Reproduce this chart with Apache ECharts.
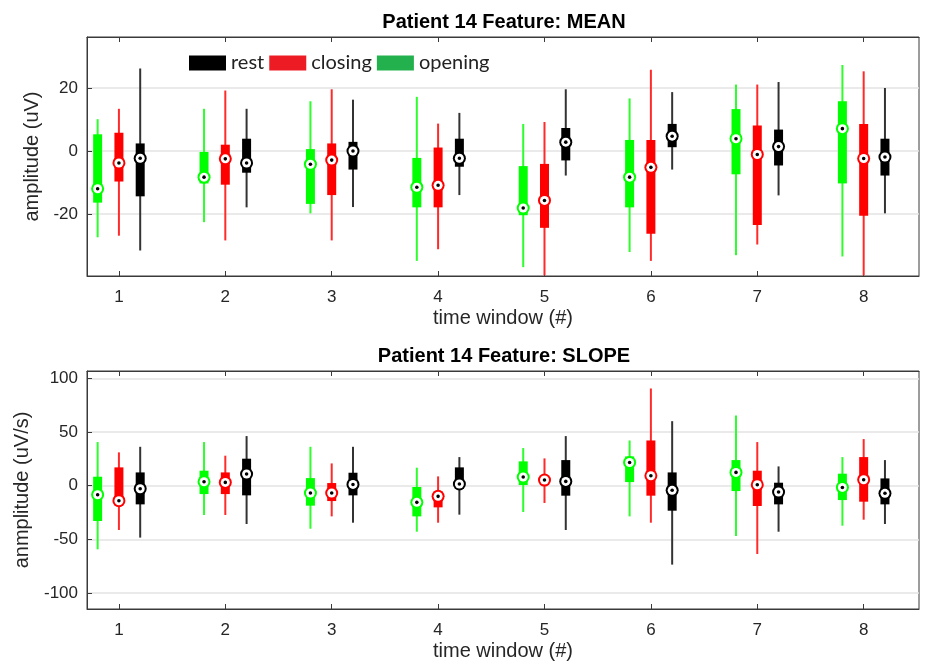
<!DOCTYPE html>
<html>
<head>
<meta charset="utf-8">
<script src="https://cdn.jsdelivr.net/npm/echarts@6/dist/echarts.min.js"></script>
<style>
  html, body { margin: 0; padding: 0; background: #fff; }
  #chart { width: 925px; height: 668px; }
</style>
</head>
<body>
<div id="chart"></div>
<script>
var windows = [1, 2, 3, 4, 5, 6, 7, 8];
var meanTicks = [-20, 0, 20];
var slopeTicks = [-100, -50, 0, 50, 100];

// each row: [lower whisker, q1, median, q3, upper whisker]
var meanOpening = [
  [-27.4, -16.4, -12.0, 5.3, 10.1], [-22.6, -10.3, -8.3, -0.3, 13.4],
  [-19.8, -16.8, -4.2, 0.6, 15.8], [-34.9, -17.9, -11.5, -2.2, 17.2],
  [-36.9, -20.4, -18.1, -4.8, 8.6], [-32.1, -17.9, -8.3, 3.5, 16.7],
  [-33.1, -7.4, 3.9, 13.3, 21.1], [-33.5, -10.3, 7.1, 15.8, 27.3]
];
var meanClosing = [
  [-26.9, -9.7, -3.8, 5.8, 13.4], [-28.4, -10.7, -2.5, 2.0, 19.2],
  [-28.4, -14.0, -2.9, 2.4, 19.6], [-31.2, -17.9, -10.9, 1.1, 8.7],
  [-39.5, -24.4, -15.7, -4.1, 9.2], [-34.9, -26.3, -5.2, 3.5, 25.8],
  [-29.7, -23.5, -1.1, 8.1, 21.1], [-39.5, -20.6, -2.4, 8.6, 25.3]
];
var meanRest = [
  [-31.6, -14.4, -2.3, 2.4, 26.2], [-17.9, -6.9, -3.8, 3.9, 13.4],
  [-17.8, -5.9, 0.0, 2.9, 16.3], [-14.0, -5.0, -2.3, 3.9, 12.1],
  [-7.8, -3.0, 2.8, 7.3, 19.6], [-5.9, 1.2, 4.7, 8.6, 18.7],
  [-14.1, -4.6, 1.4, 6.8, 21.9], [-19.8, -7.8, -1.9, 3.9, 20.0]
];
var slopeOpening = [
  [-59.3, -32.9, -8.4, 8.4, 40.7], [-27.3, -7.8, 3.7, 14.0, 40.7],
  [-40.1, -18.6, -6.8, 7.1, 36.3], [-42.9, -28.6, -15.5, -1.2, 16.8],
  [-24.5, 0.6, 8.1, 22.7, 35.1], [-28.6, 3.4, 21.7, 27.3, 42.2],
  [-46.9, -5.0, 12.4, 23.9, 65.5], [-37.3, -13.4, -1.6, 11.2, 26.7]
];
var slopeClosing = [
  [-41.3, -16.1, -14.0, 17.1, 31.1], [-27.3, -7.8, 3.1, 12.4, 28.0],
  [-28.6, -14.3, -6.8, 2.5, 20.8], [-34.5, -20.2, -9.9, -5.3, 8.7],
  [-16.1, 1.9, 5.3, 8.7, 25.5], [-34.5, -9.3, 9.3, 42.2, 90.7],
  [-63.7, -18.9, 0.9, 14.0, 40.7], [-31.7, -14.9, 5.6, 26.7, 43.5]
];
var slopeRest = [
  [-48.4, -17.4, -2.8, 12.4, 36.3], [-35.7, -9.0, 10.9, 25.2, 46.3],
  [-34.5, -9.0, 1.2, 12.1, 36.3], [-27.0, -2.5, 1.6, 17.1, 26.7],
  [-41.3, -9.3, 4.0, 23.9, 46.3], [-73.6, -23.3, -4.3, 12.4, 60.2],
  [-42.9, -17.4, -5.9, 2.8, 18.0], [-35.7, -17.4, -7.1, 6.8, 23.9]
];

var groups = [
  { name: 'opening', color: '#00ff00', whisker: '#2cff2c', shift: -0.2, mean: meanOpening, slope: slopeOpening },
  { name: 'closing', color: '#ff0000', whisker: '#ff2a2a', shift: 0, mean: meanClosing, slope: slopeClosing },
  { name: 'rest', color: '#000000', whisker: '#333333', shift: 0.2, mean: meanRest, slope: slopeRest }
];

function boxRenderer(g) {
  return function (params, api) {
    var x = api.value(0);
    var lo = api.coord([x, api.value(1)]);
    var q1 = api.coord([x, api.value(2)]);
    var md = api.coord([x, api.value(3)]);
    var q3 = api.coord([x, api.value(4)]);
    var hi = api.coord([x, api.value(5)]);
    return {
      type: 'group',
      children: [
        { type: 'line', shape: { x1: lo[0], y1: lo[1], x2: hi[0], y2: hi[1] },
          style: { stroke: g.whisker, lineWidth: 2 } },
        { type: 'rect', shape: { x: q3[0] - 4.5, y: q3[1], width: 9, height: q1[1] - q3[1] },
          style: { fill: g.color } },
        { type: 'circle', shape: { cx: md[0], cy: md[1], r: 6.5 }, style: { fill: g.color } },
        { type: 'circle', shape: { cx: md[0], cy: md[1], r: 4.5 }, style: { fill: '#fff' } },
        { type: 'circle', shape: { cx: md[0], cy: md[1], r: 1.8 }, style: { fill: '#000' } }
      ]
    };
  };
}

var series = [];
groups.forEach(function (g) {
  [['mean', 0], ['slope', 1]].forEach(function (p) {
    series.push({
      type: 'custom',
      name: g.name,
      xAxisIndex: p[1] * 2,
      yAxisIndex: p[1],
      renderItem: boxRenderer(g),
      itemStyle: { color: g.color },
      data: g[p[0]].map(function (r, i) {
        return [windows[i] + g.shift].concat(r);
      })
    });
  });
});

var tickFont = { fontFamily: 'Liberation Sans', fontSize: 17, color: '#262626' };
var axisCol = '#3a3a3a';

function xAxes(gi) {
  var base = {
    type: 'value', gridIndex: gi, min: 0.7, max: 8.52,
    axisLine: { show: true, onZero: false, lineStyle: { color: axisCol, width: 1 } },
    axisTick: { show: true, inside: true, length: 5, customValues: windows, lineStyle: { color: axisCol } },
    splitLine: { show: false }
  };
  var bottom = Object.assign({}, base, {
    position: 'bottom',
    axisLabel: Object.assign({ margin: 13, customValues: windows }, tickFont),
    name: 'time window (#)', nameLocation: 'middle', nameGap: 32,
    nameTextStyle: { fontFamily: 'Liberation Sans', fontSize: 20, color: '#262626' }
  });
  var top = Object.assign({}, base, { position: 'top', axisLabel: { show: false } });
  return [bottom, top];
}

function yAxis(gi, min, max, ticks, name, gap) {
  return {
    type: 'value', gridIndex: gi, min: min, max: max,
    axisLine: { show: true, lineStyle: { color: axisCol, width: 1 } },
    axisTick: { show: true, inside: true, length: 5, customValues: ticks, lineStyle: { color: axisCol } },
    axisLabel: Object.assign({ margin: 9, customValues: ticks }, tickFont),
    splitLine: { show: true, lineStyle: { color: '#e3e3e3', width: 1.5 } },
    name: name, nameLocation: 'middle', nameGap: gap,
    nameTextStyle: { fontFamily: 'Liberation Sans', fontSize: 20, color: '#262626' }
  };
}

var chart = echarts.init(document.getElementById('chart'), null, { renderer: 'canvas' });
chart.setOption({
  backgroundColor: '#fff',
  animation: false,
  title: [
    { text: 'Patient 14 Feature: MEAN', left: 499, top: 7, textAlign: 'center',
      textStyle: { fontFamily: 'Liberation Sans', fontWeight: 'bold', fontSize: 20, color: '#000' } },
    { text: 'Patient 14 Feature: SLOPE', left: 499, top: 341, textAlign: 'center',
      textStyle: { fontFamily: 'Liberation Sans', fontWeight: 'bold', fontSize: 20, color: '#000' } }
  ],
  legend: {
    left: 189, top: 53, padding: 0, itemGap: 5, itemWidth: 37, itemHeight: 15,
    selectedMode: false, icon: 'rect',
    textStyle: { fontFamily: 'Lato', fontSize: 20, color: '#222' },
    data: [
      { name: 'rest', itemStyle: { color: '#000000' } },
      { name: 'closing', itemStyle: { color: '#ed1c24' } },
      { name: 'opening', itemStyle: { color: '#22b14c' } }
    ]
  },
  grid: [
    { left: 87, top: 37, width: 832, height: 239, show: true, borderColor: axisCol, borderWidth: 1, backgroundColor: '#fff' },
    { left: 87, top: 371, width: 832, height: 238, show: true, borderColor: axisCol, borderWidth: 1, backgroundColor: '#fff' }
  ],
  xAxis: xAxes(0).concat(xAxes(1)),
  yAxis: [
    yAxis(0, -39.7, 36.2, meanTicks, 'amplitude (uV)', 36),
    yAxis(1, -115, 107, slopeTicks, 'anmplitude (uV/s)', 55)
  ],
  series: series
});
</script>
</body>
</html>
